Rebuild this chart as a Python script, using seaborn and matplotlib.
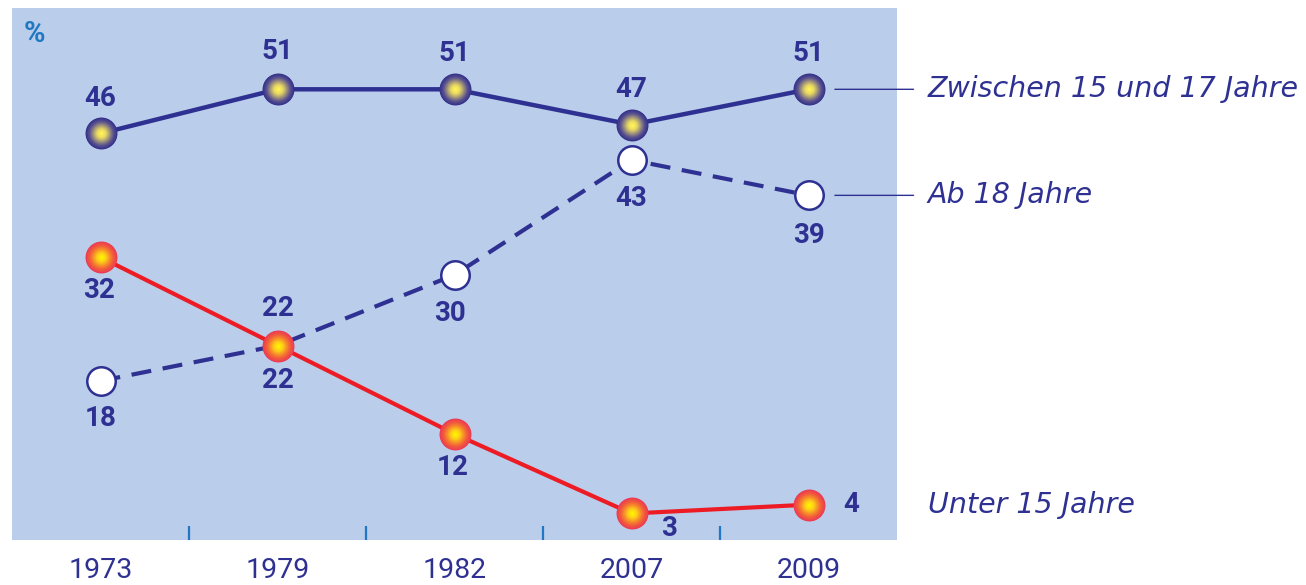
import numpy as np
import pandas as pd
import seaborn as sns
import matplotlib
matplotlib.use("Agg")
import matplotlib.pyplot as plt
from matplotlib.colors import to_rgb

# data
years = ["1973", "1979", "1982", "2007", "2009"]
zwischen = [46, 51, 51, 47, 51]
ab18 = [18, 22, 30, 43, 39]
unter15 = [32, 22, 12, 3, 4]
series_names = ["Zwischen 15 und 17 Jahre", "Ab 18 Jahre", "Unter 15 Jahre"]

NAVY = "#2E3192"
RED = "#ED1C24"
BG = "#BACDEA"
TICKBLUE = "#1F78C1"

sns.set_theme(style="white")
plt.rcParams["font.family"] = ["Roboto", "DejaVu Sans"]

df = pd.DataFrame({"pos": np.arange(len(years)),
                   "Zwischen": zwischen, "Ab18": ab18, "Unter15": unter15})

fig = plt.figure(figsize=(13.06, 5.85), dpi=100)
ax = fig.add_axes([12/1306, 45/585, 885/1306, 532/585])
ax.set_facecolor(BG)

sns.lineplot(data=df, x="pos", y="Ab18", ax=ax, color=NAVY, lw=3,
             linestyle=(0, (4.8, 2.8)), zorder=2)
sns.lineplot(data=df, x="pos", y="Zwischen", ax=ax, color=NAVY, lw=3.2, zorder=3)
sns.lineplot(data=df, x="pos", y="Unter15", ax=ax, color=RED, lw=3, zorder=4)

D = 21.5  # marker diameter in points


def sphere(ys, stops, z):
    # fake radial gradient by stacking shrinking discs
    steps = 24
    cols = [np.array(to_rgb(c)) for c in stops]
    for i in range(steps):
        t = i / (steps - 1)
        seg = min(int(t * (len(cols) - 1)), len(cols) - 2)
        f = t * (len(cols) - 1) - seg
        col = cols[seg] + (cols[seg + 1] - cols[seg]) * f
        d = D * (1 - t) + 1.5
        ax.scatter(df["pos"], ys, s=d ** 2, color=col, lw=0, zorder=z + i * 0.001)


sphere(df["Zwischen"], ["#34318A", "#5A5290", "#A2967A", "#E8D862", "#FFF35A"], 5)
ax.scatter(df["pos"], df["Ab18"], s=(D - 1) ** 2, color="white", edgecolor=NAVY,
           lw=1.8, zorder=5)
sphere(df["Unter15"], ["#EC3B55", "#F25A3C", "#F8902A", "#FDD018", "#FFF200"], 6)

# value labels
lbl = dict(color=NAVY, fontsize=20, fontweight="bold", ha="center", va="center")
off_top = [(0, 25), (0, 27), (0, 26), (0, 25), (0, 26)]
off_ab = [(0, -27), (0, 27), (-3, -28), (0, -28), (0, -29)]
off_un = [(-1, -24), (0, -25), (-1, -24), (27, -11), (31, 0)]
for i in range(len(years)):
    ax.annotate(str(zwischen[i]), (i, zwischen[i]), xytext=off_top[i],
                textcoords="offset points", **lbl)
    ax.annotate(str(ab18[i]), (i, ab18[i]), xytext=off_ab[i],
                textcoords="offset points", **lbl)
    ax.annotate(str(unter15[i]), (i, unter15[i]), xytext=off_un[i],
                textcoords="offset points", **lbl)

# series names on the right
lab = dict(color=NAVY, fontsize=20.5, fontstyle="italic", va="center", ha="left",
           annotation_clip=False, family=["DejaVu Sans"])
last = len(years) - 1
ax.annotate(series_names[0], (last, zwischen[-1]), xytext=(86, 0), textcoords="offset points",
            arrowprops=dict(arrowstyle="-", color=NAVY, lw=1, shrinkA=8, shrinkB=19), **lab)
ax.annotate(series_names[1], (last, ab18[-1]), xytext=(86, 0), textcoords="offset points",
            arrowprops=dict(arrowstyle="-", color=NAVY, lw=1, shrinkA=8, shrinkB=19), **lab)
ax.annotate(series_names[2], (last, unter15[-1]), xytext=(86, 0), textcoords="offset points", **lab)

ax.text(0.013, 0.952, "%", transform=ax.transAxes, color=TICKBLUE, fontsize=21,
        fontweight="bold", ha="left", va="center")

ax.set_xlim(-0.5, len(years) - 0.5)
ax.set_ylim(0, 60.2)
ax.set_xticks(df["pos"])
ax.set_xticklabels(years, color=NAVY, fontsize=20.5)
ax.set_xticks(np.arange(len(years) - 1) + 0.5, minor=True)
ax.tick_params(axis="x", which="major", length=0, pad=12)
ax.tick_params(axis="x", which="minor", bottom=True, direction="in", length=10,
               width=1.6, color=TICKBLUE)
ax.set_yticks([])
ax.set_xlabel("")
ax.set_ylabel("")
for s in ax.spines.values():
    s.set_visible(False)

fig.savefig("out.png", dpi=100)
